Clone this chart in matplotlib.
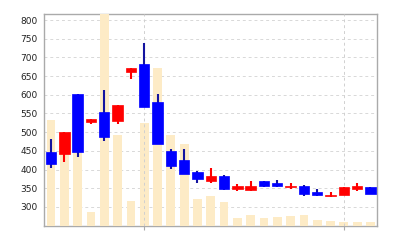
import numpy as np
from matplotlib import pyplot as plt

# daily prices
opens  = [447, 441, 602, 528, 554, 530, 661, 682, 581, 450, 425, 394, 369,
          384, 347, 345, 369, 365, 352, 356, 339, 328, 331, 347, 354]
closes = [416, 501, 447, 535, 488, 572, 672, 568, 467, 409, 387, 376, 382,
          347, 355, 356, 355, 356, 357, 334, 333, 333, 352, 356, 335]
highs  = [481, 501, 602, 535, 614, 572, 672, 738, 602, 456, 454, 395, 405,
          386, 360, 370, 370, 373, 364, 358, 347, 340, 352, 363, 354]
lows   = [403, 420, 434, 521, 477, 521, 642, 568, 467, 401, 387, 363, 363,
          345, 343, 342, 352, 352, 347, 330, 330, 326, 331, 342, 335]
volume = [106, 78, 80, 14, 240, 91, 25, 103, 158, 91, 82, 27, 30,
          24, 8, 11, 8, 9, 10, 11, 6, 5, 4, 3.5, 4]
price_ticks = [300, 350, 400, 450, 500, 550, 600, 650, 700, 750, 800]
vlines_at = [7, 22]

x = np.arange(len(opens))

fig = plt.figure(figsize=(4, 2.4), dpi=100)
ax = fig.add_axes([0.111, 0.06, 0.8318, 0.8815])

# base axes: grid + price labels
ax.set_xlim(-0.5, len(x) - 0.5)
ax.set_ylim(250, 816)
ax.set_yticks(price_ticks)
ax.set_xticks(vlines_at)
ax.set_xticklabels([])
ax.yaxis.grid(True, color='#d8d8d8', linestyle=(0, (3, 3)), linewidth=0.7)
ax.tick_params(axis='y', length=0, pad=5, labelsize=6.5, labelcolor='#222222')
ax.tick_params(axis='x', length=3, width=0.8, color='#aaaaaa', direction='out')
for s in ax.spines.values():
    s.set_color('#aaaaaa')
    s.set_linewidth(1)

# volume bars
vax = ax.twinx()
vax.bar(x, volume, width=0.66, color='#fdebc6', linewidth=0)
vax.set_ylim(0, 212)
vax.set_yticks([])
for s in vax.spines.values():
    s.set_visible(False)

# candles on top
cax = ax.twinx()
cax.set_ylim(ax.get_ylim())
cax.set_yticks([])
for s in cax.spines.values():
    s.set_visible(False)
for v in vlines_at:
    cax.axvline(v, color='#d0d0d0', linestyle=(0, (3, 3)), linewidth=0.7, zorder=0.5)
for i in x:
    up = closes[i] >= opens[i]
    col = '#ff0000' if up else '#0000ff'
    wick = '#ff0000' if up else '#1414a0'
    cax.vlines(i, lows[i], highs[i], color=wick, linewidth=1.5, zorder=1)
    lo = min(opens[i], closes[i])
    hi = max(opens[i], closes[i])
    cax.bar(i, max(hi - lo, 2), bottom=lo, width=0.78, color=col,
            edgecolor=col, linewidth=0.5, zorder=2)

plt.savefig('out.png')
